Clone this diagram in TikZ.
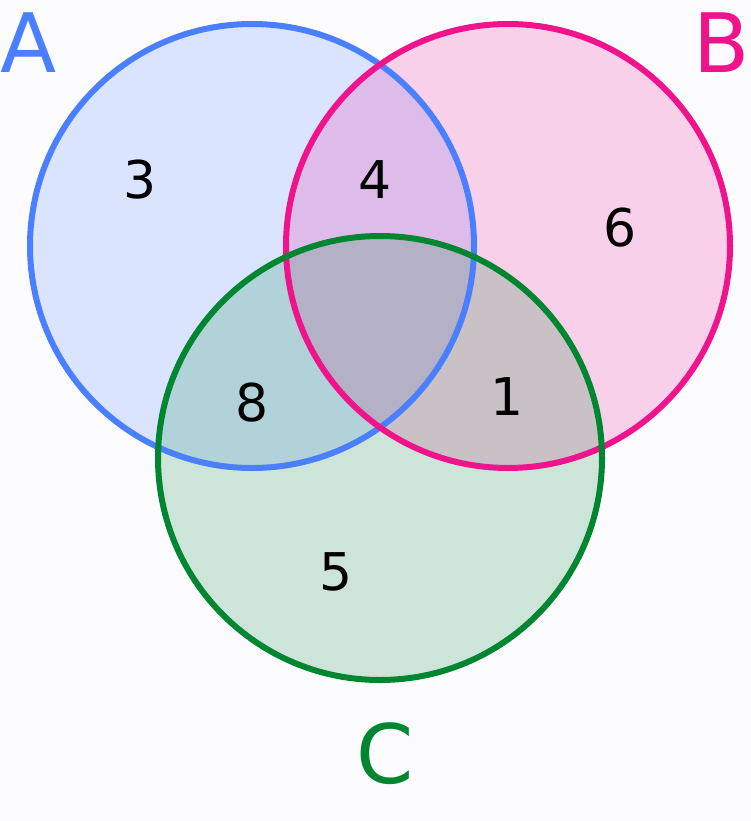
\documentclass[tikz,border=0pt]{standalone}
\usepackage{fontspec}
\setmainfont{DejaVu Sans}
\definecolor{cA}{HTML}{4A7FFF}
\definecolor{cB}{HTML}{F0148C}
\definecolor{cC}{HTML}{008530}
\begin{document}
\begin{tikzpicture}[x=1pt,y=-1pt,
  set/.style={circle,minimum size=444pt,inner sep=0pt,line width=6pt},
  num/.style={font=\fontsize{52}{52}\selectfont},
  lab/.style={font=\fontsize{82}{82}\selectfont}]
\fill[white!99!blue] (0,0) rectangle (751,821);
\useasboundingbox (0,0) rectangle (751,821);
\node[set,fill=cA,fill opacity=0.19] (fa) at (252,246) {};
\node[set,fill=cB,fill opacity=0.19] (fb) at (508,246) {};
\node[set,fill=cC,fill opacity=0.19] (fc) at (380,458) {};
\node[set,draw=cA] (A) at (252,246) {};
\node[set,draw=cB] (B) at (508,246) {};
\node[set,draw=cC] (C) at (380,458) {};
\node[num] (n3) at (140,180) {3};
\node[num] (n4) at (375,180) {4};
\node[num] (n6) at (620,228) {6};
\node[num] (n8) at (252,403) {8};
\node[num] (n1) at (507,397) {1};
\node[num] (n5) at (336,572) {5};
\node[lab,text=cA] (lA) at (29,43) {A};
\node[lab,text=cB] (lB) at (722,43) {B};
\node[lab,text=cC] (lC) at (385,754) {C};
\end{tikzpicture}
\end{document}
